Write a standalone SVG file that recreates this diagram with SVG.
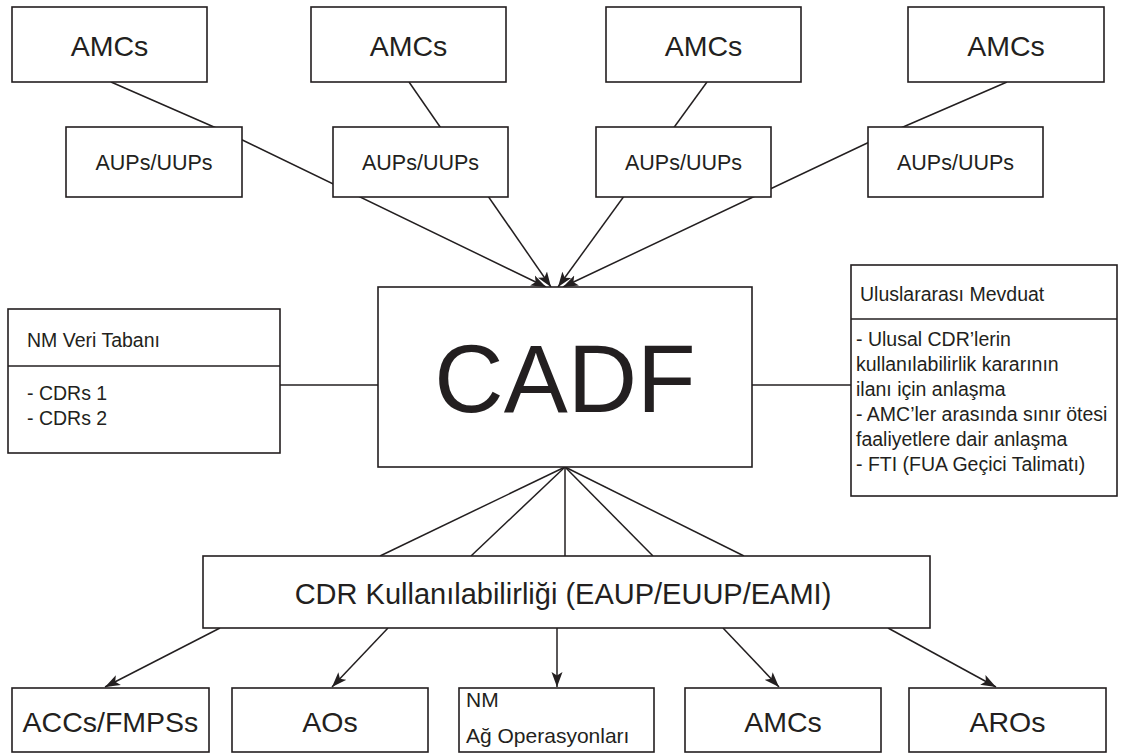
<svg xmlns="http://www.w3.org/2000/svg" width="1122" height="754" viewBox="0 0 1122 754">
  <defs>
    <style>
      .box { fill: #ffffff; stroke: #231f20; stroke-width: 1.6; }
      .rule { stroke: #231f20; stroke-width: 1.6; fill: none; }
      .link { stroke: #231f20; stroke-width: 1.5; fill: none; }
      .arrow { stroke: #231f20; stroke-width: 1.5; fill: none; marker-end: url(#head); }
      text { font-family: "Liberation Sans", Arial, sans-serif; fill: #231f20; }
      .big { font-size: 28.5px; text-anchor: middle; }
      .mid { font-size: 21.5px; text-anchor: middle; }
      .small { font-size: 19.5px; }
      .title { font-size: 96px; text-anchor: middle; }
      .wide { font-size: 29px; text-anchor: middle; }
    </style>
    <marker id="head" markerUnits="userSpaceOnUse" markerWidth="16" markerHeight="12" viewBox="0 0 16 12" refX="15" refY="6" orient="auto">
      <path d="M0,0.5 L15,6 L0,11.5 L3.5,6 Z" fill="#231f20"/>
    </marker>
  </defs>

  <!-- connectors -->
  <g id="connectors">
    <!-- AMCs through AUPs/UUPs into CADF -->
    <path class="arrow" d="M111,82 L230,134 L546,287"/>
    <line class="arrow" x1="409" y1="82" x2="551" y2="287"/>
    <line class="arrow" x1="707" y1="82" x2="558" y2="287"/>
    <path class="arrow" d="M1007,82 L880,137 L563,287"/>
    <!-- side boxes -->
    <line class="link" x1="280" y1="385" x2="378" y2="385"/>
    <line class="link" x1="752" y1="385" x2="851" y2="385"/>
    <!-- CADF fan to availability box -->
    <line class="link" x1="565" y1="467" x2="380" y2="556"/>
    <line class="link" x1="565" y1="467" x2="471" y2="556"/>
    <line class="link" x1="565" y1="467" x2="565" y2="556"/>
    <line class="link" x1="565" y1="467" x2="653" y2="556"/>
    <line class="link" x1="565" y1="467" x2="744" y2="556"/>
    <!-- availability box to users -->
    <line class="arrow" x1="220" y1="628" x2="105" y2="687"/>
    <line class="arrow" x1="388" y1="628" x2="332" y2="687"/>
    <line class="arrow" x1="557" y1="628" x2="557" y2="687"/>
    <line class="arrow" x1="723" y1="628" x2="779" y2="687"/>
    <line class="arrow" x1="888" y1="628" x2="996" y2="687"/>
  </g>

  <!-- top row: AMCs -->
  <g id="amc1"><rect class="box" x="12" y="7" width="195" height="75"/><text class="big" x="109.5" y="56">AMCs</text></g>
  <g id="amc2"><rect class="box" x="311" y="7" width="195" height="75"/><text class="big" x="408.5" y="56">AMCs</text></g>
  <g id="amc3"><rect class="box" x="606" y="7" width="195" height="75"/><text class="big" x="703.5" y="56">AMCs</text></g>
  <g id="amc4"><rect class="box" x="908" y="7" width="196" height="75"/><text class="big" x="1006" y="56">AMCs</text></g>

  <!-- second row: AUPs/UUPs -->
  <g id="aup1"><rect class="box" x="66" y="127" width="176" height="70"/><text class="mid" x="154" y="170">AUPs/UUPs</text></g>
  <g id="aup2"><rect class="box" x="333" y="127" width="175" height="70"/><text class="mid" x="420.5" y="170">AUPs/UUPs</text></g>
  <g id="aup3"><rect class="box" x="596" y="127" width="175" height="70"/><text class="mid" x="683.5" y="170">AUPs/UUPs</text></g>
  <g id="aup4"><rect class="box" x="868" y="127" width="175" height="70"/><text class="mid" x="955.5" y="170">AUPs/UUPs</text></g>

  <!-- central node -->
  <g id="cadf"><rect class="box" x="378" y="287" width="374" height="180"/><text class="title" x="565" y="412">CADF</text></g>

  <!-- NM database -->
  <g id="nm-db">
    <rect class="box" x="8" y="309" width="272" height="144"/>
    <line class="rule" x1="8" y1="366" x2="280" y2="366"/>
    <text class="small" x="27" y="347">NM Veri Tabanı</text>
    <text class="small" x="27" y="400">- CDRs 1</text>
    <text class="small" x="27" y="425">- CDRs 2</text>
  </g>

  <!-- international agreements -->
  <g id="agreements">
    <rect class="box" x="851" y="265" width="266" height="231"/>
    <line class="rule" x1="851" y1="319" x2="1117" y2="319"/>
    <text class="small" x="860" y="301">Uluslararası Mevduat</text>
    <text class="small" x="856" y="346">- Ulusal CDR’lerin</text>
    <text class="small" x="856" y="371">kullanılabilirlik kararının</text>
    <text class="small" x="856" y="396">ilanı için anlaşma</text>
    <text class="small" x="856" y="421">- AMC’ler arasında sınır ötesi</text>
    <text class="small" x="856" y="446">faaliyetlere dair anlaşma</text>
    <text class="small" x="856" y="471">- FTI (FUA Geçici Talimatı)</text>
  </g>

  <!-- availability -->
  <g id="cdr-availability"><rect class="box" x="203" y="556" width="727" height="72"/><text class="wide" x="563" y="604">CDR Kullanılabilirliği (EAUP/EUUP/EAMI)</text></g>

  <!-- bottom row -->
  <g id="accs"><rect class="box" x="12" y="688" width="197" height="64"/><text class="big" x="110.5" y="732">ACCs/FMPSs</text></g>
  <g id="aos"><rect class="box" x="232" y="688" width="196" height="64"/><text class="big" x="330" y="732">AOs</text></g>
  <g id="nm-ops">
    <rect class="box" x="459" y="688" width="195" height="64"/>
    <text x="466" y="707" style="font-size:21px">NM</text>
    <text x="466" y="743" style="font-size:21px">Ağ Operasyonları</text>
  </g>
  <g id="amc-bottom"><rect class="box" x="685" y="688" width="196" height="64"/><text class="big" x="783" y="732">AMCs</text></g>
  <g id="aros"><rect class="box" x="909" y="688" width="197" height="64"/><text class="big" x="1007.5" y="732">AROs</text></g>
</svg>
